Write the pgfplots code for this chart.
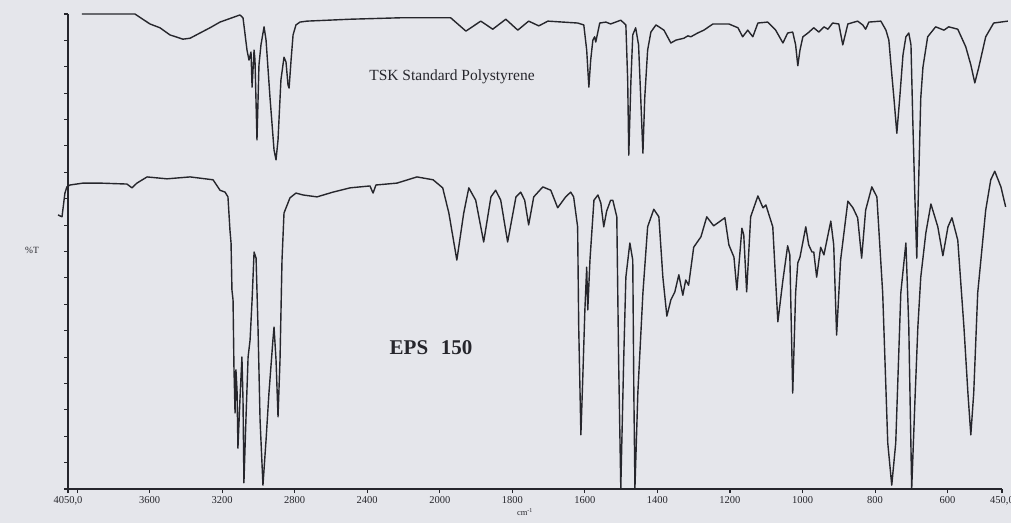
\documentclass[border=0pt]{standalone}
\usepackage{fontspec}
\setmainfont{Liberation Serif}
\usepackage{pgfplots}
\pgfplotsset{compat=1.18}
\usepackage{pgfplotstable}
\definecolor{bg}{RGB}{229,230,235}
\definecolor{ink}{RGB}{38,38,44}

\pgfplotstableread{
w T
3973 100
3681 100
3598 97.9
3543 97.1
3488 95.6
3416 94.7
3377 94.9
3322 96.0
3267 97.1
3212 98.3
3102 99.8
3085 99.2
3063 92.4
3052 90.3
3041 92.0
3035 84.6
3024 92.4
3019 90.3
3008 73.5
2997 89.3
2986 93.5
2969 97.3
2958 94.5
2936 82.3
2914 71.4
2903 69.3
2892 73.5
2876 86.1
2859 90.9
2848 89.9
2837 85.1
2831 84.4
2820 90.3
2809 95.6
2793 97.7
2771 98.3
2732 98.5
2495 98.9
2220 99.2
1970 99.2
1928 96.4
1887 98.5
1854 96.8
1818 98.9
1785 96.6
1755 98.5
1727 97.5
1702 98.5
1620 98.1
1603 97.7
1595 92.4
1589 84.6
1584 90.3
1578 94.5
1573 95.2
1570 94.1
1559 98.1
1542 98.3
1529 97.9
1501 98.7
1487 97.7
1482 86.1
1479 70.3
1473 86.1
1468 95.6
1460 97.1
1452 93.5
1446 82.3
1440 70.7
1435 82.3
1427 92.4
1418 96.2
1404 97.7
1382 96.6
1363 93.9
1349 94.5
1327 94.9
1316 95.4
1308 95.2
1289 96.0
1272 96.6
1247 97.9
1203 97.9
1178 97.1
1165 95.2
1151 96.6
1137 95.2
1123 98.1
1096 98.3
1074 96.6
1054 93.9
1041 96.0
1027 96.2
1019 93.5
1013 89.1
1007 92.4
999 95.2
985 96.0
969 97.1
955 96.2
941 97.3
930 96.8
917 98.1
900 97.9
889 93.5
875 97.9
848 98.5
834 97.7
826 96.8
817 98.3
784 98.5
770 96.6
762 94.5
754 87.4
748 82.3
740 74.9
732 82.3
723 91.4
715 95.2
707 96.0
701 93.5
696 77.7
690 60.8
685 48.6
679 67.2
674 82.3
668 88.8
655 95.2
633 97.3
610 96.6
597 97.3
572 96.8
550 93.1
536 89.3
525 85.5
514 88.8
495 95.2
473 98.1
434 98.5
}\topdata

\pgfplotstableread{
w T
4105 57.7
4083 57.3
4067 62.3
4056 63.6
4039 64.0
3967 64.4
3874 64.4
3725 64.2
3697 63.4
3670 64.4
3614 65.7
3504 65.3
3377 65.7
3250 65.1
3212 62.9
3184 62.5
3168 61.5
3157 54.5
3151 51.8
3146 41.9
3140 39.8
3135 25.7
3129 16.0
3124 25.1
3118 20.8
3113 8.6
3102 18.7
3091 27.8
3085 18.7
3080 1.3
3069 14.5
3057 27.8
3046 31.4
3035 39.8
3024 49.9
3013 48.6
3002 33.5
2991 14.5
2975 0.8
2958 10.3
2942 20.2
2920 31.4
2914 34.1
2903 27.2
2892 15.2
2881 27.2
2870 48.2
2859 58.1
2826 61.3
2793 62.3
2754 61.9
2677 61.5
2589 62.5
2495 63.4
2385 63.8
2368 62.3
2352 64.0
2236 64.4
2126 65.7
2037 65.1
1992 63.4
1975 58.1
1953 48.2
1934 58.1
1920 63.4
1901 60.8
1879 52.0
1859 61.5
1846 62.9
1832 60.8
1813 52.0
1790 61.5
1777 62.5
1766 60.8
1755 55.6
1741 61.5
1716 63.6
1694 62.9
1675 59.2
1653 61.5
1639 62.5
1631 61.5
1620 55.2
1617 34.1
1611 11.4
1606 22.9
1600 37.7
1595 46.7
1592 37.7
1586 48.2
1575 60.8
1564 61.9
1556 60.2
1548 55.2
1540 58.5
1529 60.8
1523 60.8
1512 57.3
1507 27.2
1501 0.2
1493 27.2
1487 44.6
1476 51.8
1468 48.2
1465 20.2
1462 0.2
1454 20.2
1440 41.3
1427 55.2
1410 58.9
1396 57.3
1385 44.6
1374 36.4
1363 39.8
1352 41.5
1341 45.1
1330 40.8
1322 44.0
1314 42.9
1300 50.9
1280 53.1
1264 57.3
1245 55.4
1214 57.1
1203 51.4
1189 48.8
1181 41.9
1167 54.9
1162 53.5
1154 41.5
1143 57.3
1123 61.7
1109 59.2
1101 59.8
1082 55.2
1068 35.2
1054 44.0
1041 51.2
1035 49.3
1027 20.2
1019 41.3
1013 47.6
1007 48.8
991 55.2
983 51.4
974 49.9
969 49.9
961 44.6
950 50.9
941 49.3
922 56.4
914 51.4
906 32.4
895 48.2
875 60.6
861 59.2
848 57.1
837 48.6
826 58.7
809 63.6
795 61.5
779 41.3
765 9.7
754 0.8
743 9.7
729 41.3
715 51.8
707 34.1
699 0.0
690 18.7
682 34.1
674 44.6
660 53.9
646 60.0
627 55.2
613 49.1
599 55.2
588 57.1
572 52.4
555 34.1
544 20.2
536 11.4
528 20.2
517 41.3
495 58.7
481 65.1
470 66.9
453 63.6
440 59.4
}\botdata

\begin{document}
\begin{tikzpicture}
\fill[bg] (-68pt,-34pt) rectangle (943pt,489pt);
\begin{axis}[
  at={(0,0)}, anchor=south west,
  scale only axis, width=934pt, height=475pt,
  xmin=0, xmax=5150, ymin=0, ymax=100,
  axis x line=bottom, axis y line=left,
  axis line style={-, ink, line width=1.5pt},
  clip=false,
  xtick={0,50,450,850,1250,1650,2050,2450,2850,3250,3650,4050,4450,4850,5150},
  xticklabels={{4050,0},{},3600,3200,2800,2400,2000,1800,1600,1400,1200,1000,800,600,{450,0}},
  ytick={0,5.556,11.111,16.667,22.222,27.778,33.333,38.889,44.444,50,55.556,61.111,66.667,72.222,77.778,83.333,88.889,94.444,100},
  yticklabels={},
  tick align=outside,
  major tick length=4pt,
  tick style={ink, line width=1.1pt},
  xticklabel style={font=\fontsize{10.5}{10.5}\selectfont, text=ink},
  /pgf/number format/assume math mode=true,
]
\addplot[ink, line width=1.4pt, line join=round] table[x expr={\thisrow{w}>=2000 ? 4050-\thisrow{w} : 2050+2*(2000-\thisrow{w})}, y=T] {\topdata};
\addplot[ink, line width=1.4pt, line join=round] table[x expr={\thisrow{w}>=2000 ? 4050-\thisrow{w} : 2050+2*(2000-\thisrow{w})}, y=T] {\botdata};
\end{axis}
\node[text=ink, font=\fontsize{15.5}{16}\selectfont] at (384pt,412pt) {TSK Standard Polystyrene};
\node[text=ink, font=\fontsize{21}{22}\selectfont\bfseries] at (363pt,141pt) {EPS\hspace{0.6em}150};
\node[text=ink, font=\fontsize{9.5}{10}\selectfont] at (-36pt,239pt) {\%T};
\node[text=ink, font=\fontsize{8.5}{9}\selectfont] at (457pt,-23pt) {cm\textsuperscript{-1}};
\pgfresetboundingbox
\useasboundingbox (-68pt,-34pt) rectangle (943pt,489pt);
\end{tikzpicture}
\end{document}
